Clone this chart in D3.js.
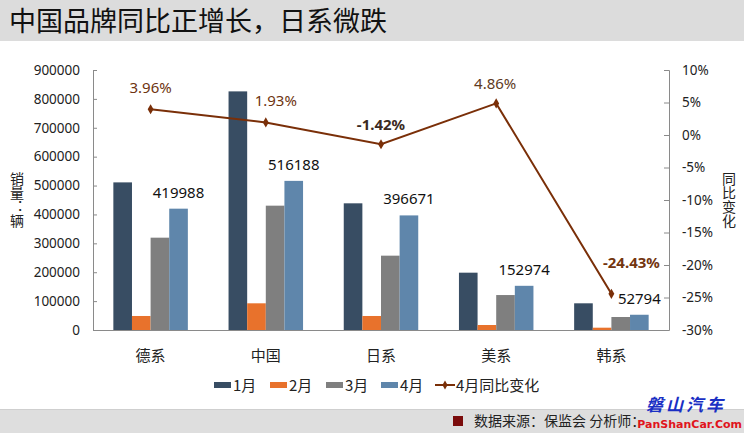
<!DOCTYPE html>
<html>
<head>
<meta charset="utf-8">
<script src="https://cdn.jsdelivr.net/npm/d3@7"></script>
<style>
  body { margin: 0; background: #fff; }
  svg { display: block; }
  text { font-family: "Noto Sans", "Noto Sans CJK SC", sans-serif; }
  .cjk { font-family: "Noto Sans CJK SC", sans-serif; }
  .vert { writing-mode: vertical-rl; text-orientation: upright; }
</style>
</head>
<body>
<svg id="chart" width="744" height="435"></svg>
<script>
// data
var categories = ["德系", "中国", "日系", "美系", "韩系"];
var seriesNames = ["1月", "2月", "3月", "4月"];
var jan = [511000, 826000, 438500, 198400, 92400];
var feb = [48500, 92400, 48500, 17300, 8000];
var mar = [319600, 430400, 257300, 121000, 45000];
var apr = [419988, 516188, 396671, 152974, 52794];
var yoy = [3.96, 1.93, -1.42, 4.86, -24.43];
var leftTicks = [0, 100000, 200000, 300000, 400000, 500000, 600000, 700000, 800000, 900000];
var rightTicks = [-30, -25, -20, -15, -10, -5, 0, 5, 10];

var colors = ["#384d63", "#e8722c", "#7f7f7f", "#5f86ab"];
var lineColor = "#7a2f08";

var svg = d3.select("#chart");
var plotLeft = 93, plotRight = 669, plotTop = 70, plotBottom = 330;

// Title bar and footer bar
svg.append("rect").attr("x", 0).attr("y", 0).attr("width", 744).attr("height", 41).style("fill", "#dcdcdc");
svg.append("text").attr("class", "cjk").attr("x", 9).attr("y", 31)
    .style("font-size", "27px").style("fill", "#111")
    .text("中国品牌同比正增长，日系微跌");

svg.append("rect").attr("x", 0).attr("y", 409).attr("width", 744).attr("height", 24).style("fill", "#dedede");
svg.append("line").attr("x1", 0).attr("x2", 744).attr("y1", 409.5).attr("y2", 409.5).style("stroke", "#cfcfcf");
svg.append("rect").attr("x", 453).attr("y", 416).attr("width", 10).attr("height", 10).style("fill", "#7b0c0c");
svg.append("text").attr("class", "cjk").attr("x", 474).attr("y", 426)
    .style("font-size", "14px").style("fill", "#222")
    .text("数据来源：保监会  分析师：");

// watermark
svg.append("text").attr("class", "cjk").attr("x", 686).attr("y", 411).attr("text-anchor", "middle")
    .style("font-size", "17px").style("font-weight", "bold").style("font-style", "italic")
    .style("fill", "#1a2fc4").style("letter-spacing", "3px")
    .text("磐山汽车");
svg.append("text").attr("x", 742).attr("y", 428).attr("text-anchor", "end")
    .style("font-size", "11px").style("font-weight", "900").style("fill", "#e0141c")
    .style("font-family", "'DejaVu Sans', sans-serif")
    .text("PanShanCar.Com");

// Scales
var x = d3.scaleBand().domain(categories).range([plotLeft, plotRight]);
var groupW = 74.5;
var xs = d3.scaleBand().domain(seriesNames).range([0, groupW]);
var y = d3.scaleLinear().domain([0, 900000]).range([plotBottom, plotTop]);
var y2 = d3.scaleLinear().domain([-30, 10]).range([plotBottom, plotTop]);

// Axes
var gl = svg.append("g").attr("transform", "translate(" + plotLeft + ",0)")
    .call(d3.axisLeft(y).tickValues(leftTicks).tickSize(-4).tickPadding(13).tickFormat(d3.format("d")));
var gr = svg.append("g").attr("transform", "translate(" + plotRight + ",0)")
    .call(d3.axisRight(y2).tickValues(rightTicks).tickSize(-5).tickPadding(13).tickFormat(function(d) { return d + "%"; }));
[gl, gr].forEach(function(g) {
    g.select(".domain").style("stroke", "#8a8a8a");
    g.selectAll(".tick line").style("stroke", "#8a8a8a");
    g.selectAll(".tick text").style("font-size", "13.5px").style("fill", "#222")
        .style("font-family", "'Noto Sans', sans-serif");
});
svg.append("line").attr("x1", plotLeft).attr("x2", plotRight).attr("y1", plotBottom + 0.5).attr("y2", plotBottom + 0.5)
    .style("stroke", "#8a8a8a");

// Category labels
svg.selectAll(".cat").data(categories).enter().append("text")
    .attr("class", "cjk").attr("x", function(d) { return x(d) + x.bandwidth() / 2; })
    .attr("y", 361).attr("text-anchor", "middle")
    .style("font-size", "15px").style("fill", "#222")
    .text(function(d) { return d; });

// Axis titles, written vertically
svg.append("text").attr("class", "cjk vert").attr("x", 17).attr("y", 172)
    .style("font-size", "14px").style("fill", "#222").text("销量：辆");
svg.append("text").attr("class", "cjk vert").attr("x", 729).attr("y", 172)
    .style("font-size", "14px").style("fill", "#222").text("同比变化");

// Bars
var series = [jan, feb, mar, apr];
series.forEach(function(vals, si) {
    svg.append("g").selectAll("rect").data(vals).enter().append("rect")
        .attr("x", function(d, i) { return x(categories[i]) + (x.bandwidth() - groupW) / 2 + xs(seriesNames[si]); })
        .attr("y", function(d) { return y(d); })
        .attr("width", xs.bandwidth())
        .attr("height", function(d) { return plotBottom - y(d); })
        .style("fill", colors[si]);
});

// April value labels
svg.selectAll(".vl").data(apr).enter().append("text")
    .attr("x", function(d, i) { return x(categories[i]) + (x.bandwidth() - groupW) / 2 + xs("4月") + xs.bandwidth() / 2; })
    .attr("y", function(d) { return y(d) - 11; })
    .attr("text-anchor", "middle").style("font-size", "15px").style("fill", "#111")
    .text(function(d) { return d; });

// YoY line
var cx = function(d, i) { return x(categories[i]) + x.bandwidth() / 2; };
var line = d3.line().x(cx).y(function(d) { return y2(d); });
svg.append("path").datum(yoy).attr("d", line)
    .style("fill", "none").style("stroke", lineColor).style("stroke-width", 2);
svg.selectAll(".mk").data(yoy).enter().append("path")
    .attr("d", d3.symbol(d3.symbolDiamond, 30))
    .attr("transform", function(d, i) { return "translate(" + cx(d, i) + "," + y2(d) + ")"; })
    .style("fill", lineColor);

var labelStyle = [
    { dx: 0, dy: -16, bold: false, fill: "#6e3410" },
    { dx: 10, dy: -16, bold: false, fill: "#6e3410" },
    { dx: 0, dy: -14, bold: true, fill: "#3b2a22" },
    { dx: -1, dy: -14, bold: false, fill: "#5e3a1e" },
    { dx: 20, dy: -26, bold: true, fill: "#73350f" }
];
svg.selectAll(".yl").data(yoy).enter().append("text")
    .attr("x", function(d, i) { return cx(d, i) + labelStyle[i].dx; })
    .attr("y", function(d, i) { return y2(d) + labelStyle[i].dy; })
    .attr("text-anchor", "middle").style("font-size", "15px")
    .style("font-weight", function(d, i) { return labelStyle[i].bold ? "bold" : "normal"; })
    .style("fill", function(d, i) { return labelStyle[i].fill; })
    .text(function(d) { return d.toFixed(2) + "%"; });

// Legend
var legendX = [214, 270, 326, 381];
seriesNames.forEach(function(name, i) {
    svg.append("rect").attr("x", legendX[i]).attr("y", 382).attr("width", 17).attr("height", 6)
        .style("fill", colors[i]);
    svg.append("text").attr("class", "cjk").attr("x", legendX[i] + 19).attr("y", 391)
        .style("font-size", "15px").style("fill", "#222").text(name);
});
svg.append("line").attr("x1", 435).attr("x2", 455).attr("y1", 385).attr("y2", 385)
    .style("stroke", lineColor).style("stroke-width", 2);
svg.append("path").attr("d", d3.symbol(d3.symbolDiamond, 24)).attr("transform", "translate(445,385)")
    .style("fill", lineColor);
svg.append("text").attr("class", "cjk").attr("x", 456).attr("y", 391)
    .style("font-size", "15px").style("fill", "#222").text("4月同比变化");
</script>
</body>
</html>
